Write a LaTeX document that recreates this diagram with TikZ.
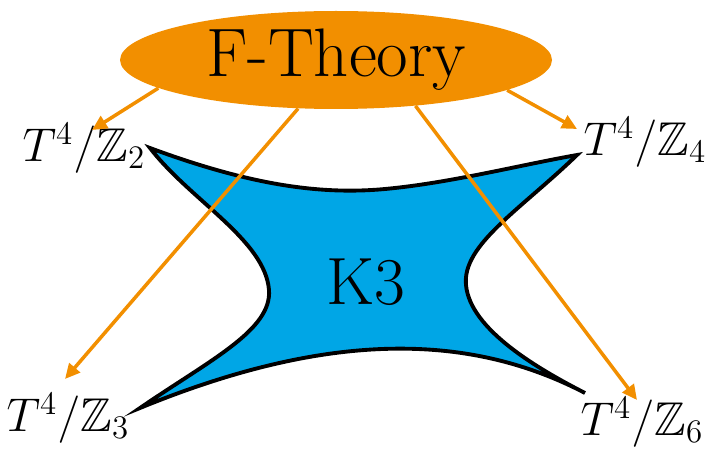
\documentclass[tikz,border=0pt]{standalone}
\usepackage{amssymb}
\usetikzlibrary{shapes.geometric,arrows.meta}
\definecolor{ftorange}{RGB}{242,143,0}
\definecolor{kblue}{RGB}{0,166,230}
\tikzset{
  ftbox/.style={ellipse,fill=ftorange,minimum width=432*0.02cm,minimum height=98*0.02cm,inner sep=0pt},
  lbl/.style={inner sep=0pt},
  farrow/.style={draw=ftorange,line width=2pt,-{Triangle[length=0.3cm,width=0.28cm]}},
}
\newcommand{\lab}[1]{\scalebox{1.3}{\huge$T^4/\mathbb{Z}_{#1}$}}
\begin{document}
\begin{tikzpicture}[x=0.02cm,y=-0.02cm]
\useasboundingbox (0,0) rectangle (709,449);
% K3 surface
\draw[fill=kblue,line width=2.2pt,line join=miter]
  (150,148) .. controls (250,185) and (320,195) .. (385,189)
  .. controls (450,183) and (520,165) .. (577,155)
  .. controls (520,210) and (462,245) .. (466,285)
  .. controls (470,330) and (540,370) .. (585,393)
  .. controls (470,333) and (330,330) .. (140,408)
  .. controls (210,360) and (272,330) .. (269,290)
  .. controls (265,240) and (190,200) .. (150,148) -- cycle;
\node[inner sep=0pt] (k3) at (366,282) {\scalebox{1.53}{\Huge K3}};
\node[ftbox] (ft) at (336,60) {\scalebox{1.57}{\Huge F-Theory}};
\node[lbl] (z2) at (84,148) {\lab{2}};
\node[lbl] (z4) at (645,142) {\lab{4}};
\node[lbl] (z3) at (68,418) {\lab{3}};
\node[lbl] (z6) at (642,422) {\lab{6}};
\coordinate (e2) at (92,130);
\coordinate (e4) at (577,129);
\coordinate (e3) at (65,379);
\coordinate (e6) at (637,400);
\draw[farrow] (ft.189) -- (e2);
\draw[farrow] (ft.350) -- (e4);
\draw[farrow] (ft.232) -- (e3);
\draw[farrow] (ft.330) -- (e6);
\end{tikzpicture}
\end{document}
